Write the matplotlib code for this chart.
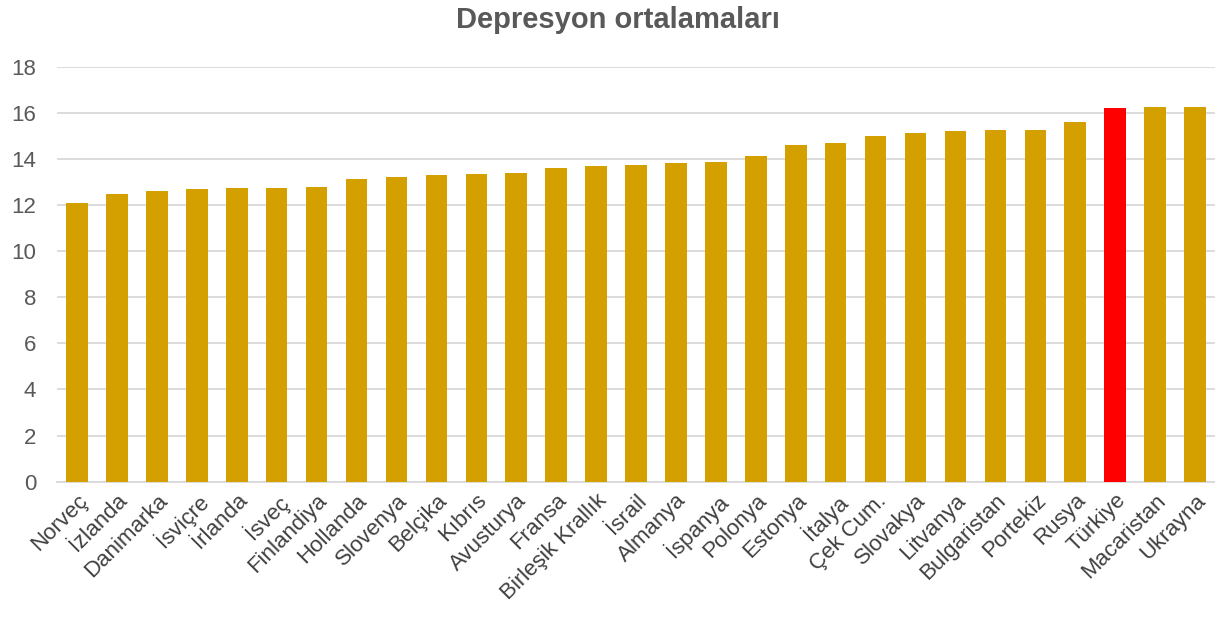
import matplotlib.pyplot as plt

ulkeler = ['Norveç', 'İzlanda', 'Danimarka', 'İsviçre', 'İrlanda', 'İsveç', 'Finlandiya',
           'Hollanda', 'Slovenya', 'Belçika', 'Kıbrıs', 'Avusturya', 'Fransa',
           'Birleşik Krallık', 'İsrail', 'Almanya', 'İspanya', 'Polonya', 'Estonya',
           'İtalya', 'Çek Cum.', 'Slovakya', 'Litvanya', 'Bulgaristan', 'Portekiz',
           'Rusya', 'Türkiye', 'Macaristan', 'Ukrayna']
ortalama = [12.1, 12.5, 12.6, 12.7, 12.76, 12.76, 12.79, 13.15, 13.24, 13.31, 13.37, 13.41,
            13.63, 13.70, 13.72, 13.82, 13.89, 14.11, 14.62, 14.70, 15.01, 15.11, 15.20,
            15.28, 15.28, 15.60, 16.20, 16.24, 16.27]
vurgu = 'Türkiye'

# renkler: Türkiye kırmızı, diğerleri hardal
renkler = ['#ff0000' if u == vurgu else '#d4a000' for u in ulkeler]

plt.rcParams['font.family'] = ['Liberation Sans', 'DejaVu Sans']

fig = plt.figure(figsize=(12.15, 6.19), dpi=100)
ax = fig.add_axes([0.047, 0.222, 0.953, 0.670])

ax.bar(range(len(ulkeler)), ortalama, width=0.54, color=renkler, zorder=3)

ax.set_xlim(-0.5, len(ulkeler) - 0.5)
ax.set_ylim(0, 18)
ax.set_yticks(range(0, 19, 2))
ax.grid(axis='y', color='#d9d9d9', linewidth=1.3, zorder=0)
ax.set_xticks(range(len(ulkeler)))
ax.set_xticklabels(ulkeler, rotation=45, ha='right', rotation_mode='anchor',
                   fontsize=16, color='#404040')
ax.tick_params(axis='y', labelsize=16, labelcolor='#595959', length=0, pad=15)
ax.tick_params(axis='x', length=0, pad=6)
for s in ['top', 'right', 'left']:
    ax.spines[s].set_visible(False)
ax.spines['bottom'].set_color('#d9d9d9')
ax.spines['bottom'].set_linewidth(1.3)

fig.text(0.509, 0.968, 'Depresyon ortalamaları', ha='center', va='center',
         fontsize=21, fontweight='bold', color='#595959')

fig.savefig('out.png', dpi=100)
